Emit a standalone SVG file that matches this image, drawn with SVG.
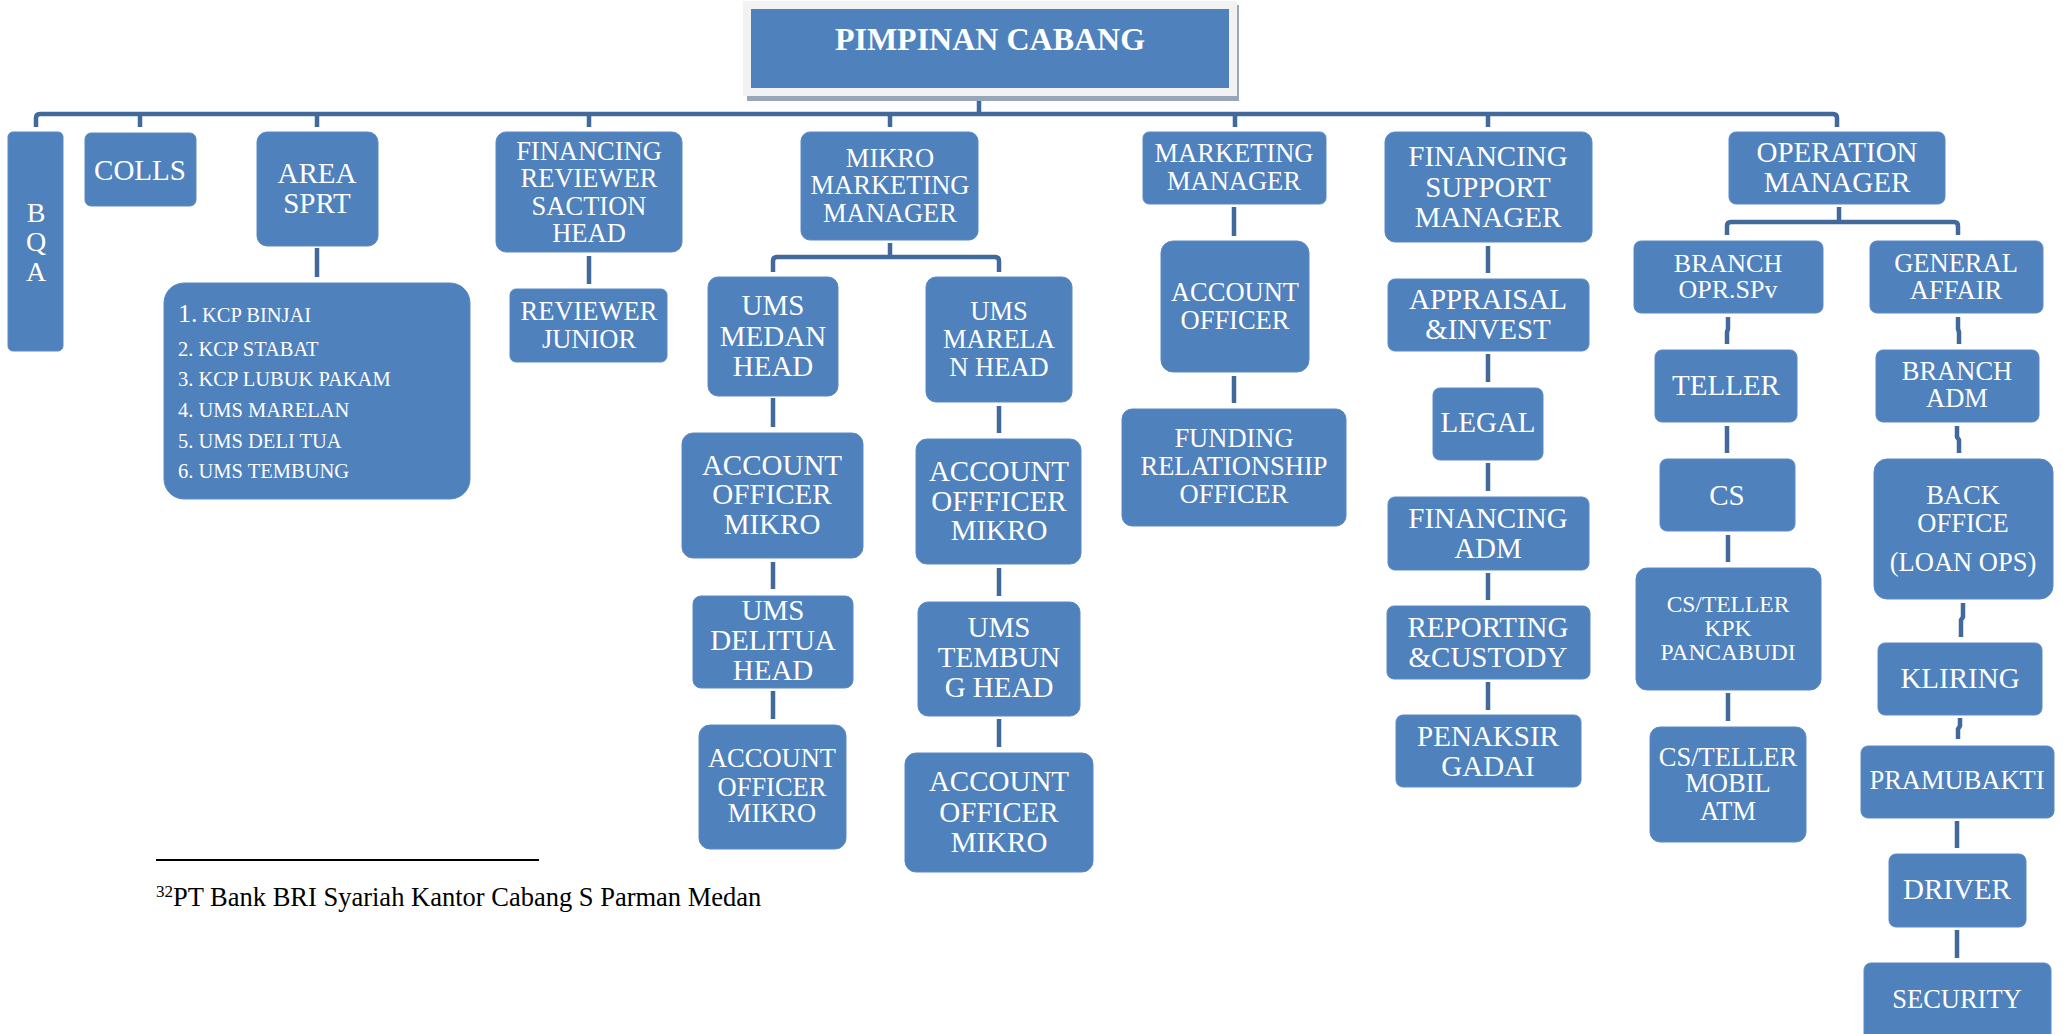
<svg xmlns="http://www.w3.org/2000/svg" width="2063" height="1034" viewBox="0 0 2063 1034">
<style>
.box{fill:#4F81BD;stroke:#5A8AC4;stroke-width:1}
.t{fill:#FFFFFF;font-family:"Liberation Serif","Times New Roman",serif;text-anchor:middle}
.a{font-size:29px}
.b{font-size:26.5px}
.c{font-size:23.5px}
.l{fill:#FFFFFF;font-family:"Liberation Serif","Times New Roman",serif;font-size:20.5px}
.con{fill:none;stroke:#41699C;stroke-width:4.5;stroke-linejoin:round}
</style>
<rect width="2063" height="1034" fill="#FFFFFF"/>
<g id="connectors">
<path class="con" d="M979,100 V114"/>
<path class="con" d="M36,127 V118 Q36,114 40,114 H1833 Q1837,114 1837,118 V127"/>
<path class="con" d="M140,114 V127 M317,114 V127 M589,114 V127 M890,114 V127 M1235,114 V127 M1488,114 V127"/>
<path class="con" d="M317,248 V277"/>
<path class="con" d="M589,256 V284"/>
<path class="con" d="M890,243 V257 M773,272 V261 Q773,257 777,257 H995 Q999,257 999,261 V272"/>
<path class="con" d="M773,398 V427 M773,562 V589 M773,691 V719"/>
<path class="con" d="M999,406 V433 M999,568 V596 M999,719 V747"/>
<path class="con" d="M1234,207 V236 M1234,376 V403"/>
<path class="con" d="M1488,246 V273 M1488,354 V382 M1488,463 V491 M1488,573 V600 M1488,682 V710"/>
<path class="con" d="M1839,207 V222 M1727,235 V226 Q1727,222 1731,222 H1954 Q1958,222 1958,226 V235"/>
<path class="con" d="M1728,317 V329 L1727,332 V344 M1727,426 V453 M1728,535 V562 M1728,693 V721"/>
<path class="con" d="M1958,317 V329 L1959,332 V344 M1957,426 V437 L1959,440 V453 M1963,603 V617 L1961,620 V637 M1960,718 V726 L1958,729 V739 M1957,821 V848 M1957,930 V958"/>
</g>
<g id="pimpinan-cabang">
<rect x="747" y="5" width="492" height="96" fill="#98A6BC"/>
<rect x="743" y="1" width="494" height="95" fill="#F2F2F2"/>
<rect x="751" y="9" width="478" height="79" fill="#4F81BD"/>
<text class="t" x="990" y="50" style="font-size:32px;font-weight:bold">PIMPINAN CABANG</text>
</g>
<g id="bqa">
<rect class="box" x="8" y="132" width="55" height="219" rx="5"/>
<text class="t" x="36" y="222" style="font-size:28px">B</text>
<text class="t" x="36" y="251" style="font-size:28px">Q</text>
<text class="t" x="36" y="281" style="font-size:28px">A</text>
</g>
<g id="colls">
<rect class="box" x="85" y="133" width="111" height="73" rx="6"/>
<text class="t a" x="140" y="180">COLLS</text>
</g>
<g id="area-sprt">
<rect class="box" x="257" y="132" width="121" height="114" rx="10"/>
<text class="t a" x="317" y="183">AREA</text>
<text class="t a" x="317" y="213">SPRT</text>
</g>
<g id="area-list">
<rect class="box" x="164" y="283" width="306" height="216" rx="20"/>
<text class="l" x="178" y="322"><tspan style="font-size:26px">1.</tspan><tspan x="202">KCP BINJAI</tspan></text>
<text class="l" x="178" y="356">2. KCP STABAT</text>
<text class="l" x="178" y="386">3. KCP LUBUK PAKAM</text>
<text class="l" x="178" y="417">4. UMS MARELAN</text>
<text class="l" x="178" y="448">5. UMS DELI TUA</text>
<text class="l" x="178" y="478">6. UMS TEMBUNG</text>
</g>
<g id="financing-reviewer">
<rect class="box" x="496" y="132" width="186" height="120" rx="10"/>
<text class="t b" x="589" y="160">FINANCING</text>
<text class="t b" x="589" y="187">REVIEWER</text>
<text class="t b" x="589" y="215">SACTION</text>
<text class="t b" x="589" y="242">HEAD</text>
</g>
<g id="reviewer-junior">
<rect class="box" x="510" y="289" width="157" height="73" rx="6"/>
<text class="t b" x="589" y="320">REVIEWER</text>
<text class="t b" x="589" y="348">JUNIOR</text>
</g>
<g id="mikro-marketing-manager">
<rect class="box" x="801" y="132" width="177" height="108" rx="9"/>
<text class="t b" x="890" y="167">MIKRO</text>
<text class="t b" x="890" y="194">MARKETING</text>
<text class="t b" x="890" y="222">MANAGER</text>
</g>
<g id="ums-medan-head">
<rect class="box" x="708" y="277" width="130" height="119" rx="10"/>
<text class="t a" x="773" y="315">UMS</text>
<text class="t a" x="773" y="346">MEDAN</text>
<text class="t a" x="773" y="376">HEAD</text>
</g>
<g id="ao-mikro-1">
<rect class="box" x="682" y="433" width="181" height="125" rx="11"/>
<text class="t a" x="772" y="475">ACCOUNT</text>
<text class="t a" x="772" y="504">OFFICER</text>
<text class="t a" x="772" y="534">MIKRO</text>
</g>
<g id="ums-delitua-head">
<rect class="box" x="693" y="596" width="160" height="92" rx="8"/>
<text class="t a" x="773" y="620">UMS</text>
<text class="t a" x="773" y="650">DELITUA</text>
<text class="t a" x="773" y="680">HEAD</text>
</g>
<g id="ao-mikro-2">
<rect class="box" x="699" y="725" width="147" height="124" rx="11"/>
<text class="t b" x="772" y="767">ACCOUNT</text>
<text class="t b" x="772" y="796">OFFICER</text>
<text class="t b" x="772" y="822">MIKRO</text>
</g>
<g id="ums-marelan-head">
<rect class="box" x="926" y="277" width="146" height="125" rx="10"/>
<text class="t b" x="999" y="320">UMS</text>
<text class="t b" x="999" y="348">MARELA</text>
<text class="t b" x="999" y="376">N HEAD</text>
</g>
<g id="ao-mikro-3">
<rect class="box" x="916" y="439" width="165" height="125" rx="11"/>
<text class="t a" x="999" y="481">ACCOUNT</text>
<text class="t a" x="999" y="511">OFFFICER</text>
<text class="t a" x="999" y="540">MIKRO</text>
</g>
<g id="ums-tembung-head">
<rect class="box" x="918" y="602" width="162" height="114" rx="10"/>
<text class="t a" x="999" y="637">UMS</text>
<text class="t a" x="999" y="667">TEMBUN</text>
<text class="t a" x="999" y="697">G HEAD</text>
</g>
<g id="ao-mikro-4">
<rect class="box" x="905" y="753" width="188" height="119" rx="11"/>
<text class="t a" x="999" y="791">ACCOUNT</text>
<text class="t a" x="999" y="822">OFFICER</text>
<text class="t a" x="999" y="852">MIKRO</text>
</g>
<g id="marketing-manager">
<rect class="box" x="1143" y="132" width="183" height="72" rx="6"/>
<text class="t b" x="1234" y="162">MARKETING</text>
<text class="t b" x="1234" y="190">MANAGER</text>
</g>
<g id="account-officer">
<rect class="box" x="1161" y="241" width="148" height="131" rx="12"/>
<text class="t b" x="1235" y="301">ACCOUNT</text>
<text class="t b" x="1235" y="329">OFFICER</text>
</g>
<g id="funding-relationship-officer">
<rect class="box" x="1122" y="409" width="224" height="117" rx="10"/>
<text class="t b" x="1234" y="447">FUNDING</text>
<text class="t b" x="1234" y="475">RELATIONSHIP</text>
<text class="t b" x="1234" y="503">OFFICER</text>
</g>
<g id="financing-support-manager">
<rect class="box" x="1385" y="132" width="207" height="110" rx="10"/>
<text class="t a" x="1488" y="166">FINANCING</text>
<text class="t a" x="1488" y="197">SUPPORT</text>
<text class="t a" x="1488" y="227">MANAGER</text>
</g>
<g id="appraisal-invest">
<rect class="box" x="1388" y="279" width="201" height="72" rx="7"/>
<text class="t a" x="1488" y="309">APPRAISAL</text>
<text class="t a" x="1488" y="339">&amp;INVEST</text>
</g>
<g id="legal">
<rect class="box" x="1433" y="388" width="110" height="72" rx="7"/>
<text class="t a" x="1488" y="432">LEGAL</text>
</g>
<g id="financing-adm">
<rect class="box" x="1388" y="497" width="201" height="73" rx="7"/>
<text class="t a" x="1488" y="528">FINANCING</text>
<text class="t a" x="1488" y="558">ADM</text>
</g>
<g id="reporting-custody">
<rect class="box" x="1387" y="606" width="203" height="73" rx="7"/>
<text class="t a" x="1488" y="637">REPORTING</text>
<text class="t a" x="1488" y="667">&amp;CUSTODY</text>
</g>
<g id="penaksir-gadai">
<rect class="box" x="1396" y="715" width="185" height="72" rx="7"/>
<text class="t a" x="1488" y="746">PENAKSIR</text>
<text class="t a" x="1488" y="776">GADAI</text>
</g>
<g id="operation-manager">
<rect class="box" x="1729" y="132" width="216" height="72" rx="7"/>
<text class="t a" x="1837" y="162">OPERATION</text>
<text class="t a" x="1837" y="192">MANAGER</text>
</g>
<g id="branch-opr-spv">
<rect class="box" x="1634" y="241" width="189" height="72" rx="7"/>
<text class="t" x="1728" y="272" style="font-size:26px">BRANCH</text>
<text class="t" x="1728" y="298" style="font-size:26px">OPR.SPv</text>
</g>
<g id="general-affair">
<rect class="box" x="1870" y="241" width="173" height="72" rx="7"/>
<text class="t b" x="1956" y="272">GENERAL</text>
<text class="t b" x="1956" y="299">AFFAIR</text>
</g>
<g id="teller">
<rect class="box" x="1655" y="350" width="142" height="72" rx="7"/>
<text class="t a" x="1726" y="395">TELLER</text>
</g>
<g id="cs">
<rect class="box" x="1660" y="459" width="135" height="72" rx="7"/>
<text class="t a" x="1727" y="505">CS</text>
</g>
<g id="cs-teller-kpk">
<rect class="box" x="1636" y="568" width="185" height="122" rx="11"/>
<text class="t c" x="1728" y="612">CS/TELLER</text>
<text class="t c" x="1728" y="636">KPK</text>
<text class="t c" x="1728" y="660">PANCABUDI</text>
</g>
<g id="cs-teller-mobil">
<rect class="box" x="1650" y="727" width="156" height="115" rx="10"/>
<text class="t b" x="1728" y="766">CS/TELLER</text>
<text class="t b" x="1728" y="792">MOBIL</text>
<text class="t b" x="1728" y="820">ATM</text>
</g>
<g id="branch-adm">
<rect class="box" x="1876" y="350" width="163" height="72" rx="7"/>
<text class="t b" x="1957" y="380">BRANCH</text>
<text class="t b" x="1957" y="407">ADM</text>
</g>
<g id="back-office">
<rect class="box" x="1874" y="459" width="179" height="140" rx="13"/>
<text class="t b" x="1963" y="504">BACK</text>
<text class="t b" x="1963" y="532">OFFICE</text>
<text class="t b" x="1963" y="571">(LOAN OPS)</text>
</g>
<g id="kliring">
<rect class="box" x="1878" y="643" width="164" height="72" rx="7"/>
<text class="t a" x="1960" y="688">KLIRING</text>
</g>
<g id="pramubakti">
<rect class="box" x="1861" y="746" width="193" height="72" rx="7"/>
<text class="t b" x="1957" y="789">PRAMUBAKTI</text>
</g>
<g id="driver">
<rect class="box" x="1889" y="854" width="137" height="73" rx="7"/>
<text class="t a" x="1957" y="899">DRIVER</text>
</g>
<g id="security">
<rect class="box" x="1864" y="963" width="187" height="80" rx="7"/>
<text class="t b" x="1957" y="1008">SECURITY</text>
</g>
<g id="footnote">
<line x1="156" y1="860" x2="539" y2="860" stroke="#000000" stroke-width="1.8"/>
<text x="156" y="906" style="font-family:'Liberation Serif','Times New Roman',serif;font-size:26.5px;fill:#000000"><tspan style="font-size:17px" dy="-9">32</tspan><tspan dy="9">PT Bank BRI Syariah Kantor Cabang S Parman Medan</tspan></text>
</g>
</svg>
